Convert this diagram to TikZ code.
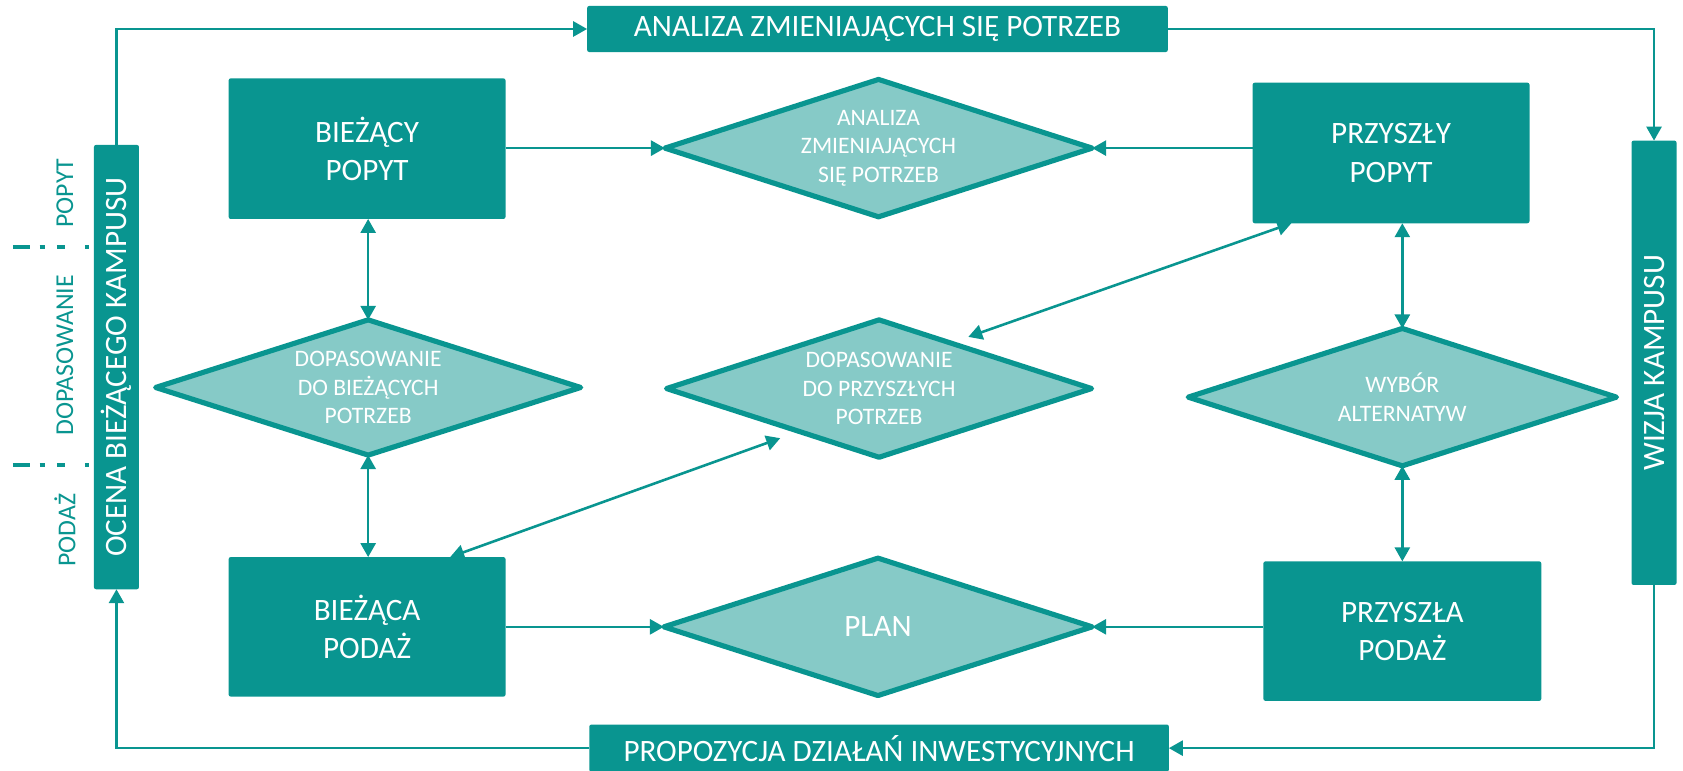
\documentclass[tikz,border=0pt]{standalone}
\usepackage{fontspec}
\setmainfont{Carlito}
\usetikzlibrary{shapes.geometric,arrows.meta,calc}
\definecolor{tealA}{HTML}{099590}
\definecolor{tealB}{HTML}{86CAC7}
\begin{document}
\begin{tikzpicture}[x=0.5pt,y=-0.5pt,
 bigf/.style={font=\fontsize{14.5}{17.8}\selectfont},
 box/.style={fill=tealA, rounded corners=1pt, inner sep=0pt, outer sep=0pt},
 boxtext/.style={text=white, align=center, bigf},
 dia/.style={diamond, draw=tealA, fill=tealB, line width=2.4pt, line join=round, inner sep=0pt, outer sep=0pt},
 diatext/.style={text=white, align=center, font=\fontsize{11}{13.4}\selectfont},
 sidetext/.style={text=tealA, rotate=90, font=\fontsize{12}{14}\selectfont},
 conn/.style={draw=tealA, line width=1.2pt, -{Triangle[length=6.5pt,width=7pt]}},
 biconn/.style={draw=tealA, line width=1.2pt, {Triangle[length=6.5pt,width=7pt]}-{Triangle[length=6.5pt,width=7pt]}},
 sepline/.style={draw=tealA, line width=1.9pt, dash pattern=on 8pt off 4.5pt on 2.5pt off 5.5pt on 4pt off 9pt on 2pt}
]
\useasboundingbox (0,0) rectangle (1568,718);

% outer bars
\node[box, boxtext, minimum width=270.5pt, minimum height=21.5pt] (atop) at (817.5,27) {ANALIZA ZMIENIAJĄCYCH SIĘ POTRZEB};
\node[box, boxtext, minimum width=270pt, minimum height=22pt] (prop) at (819,697) {PROPOZYCJA DZIAŁAŃ INWESTYCYJNYCH};
\node[box, minimum width=21pt, minimum height=207pt] (ocena) at (108.5,342) {};
\node[boxtext, rotate=90] (ocenat) at (ocena.center) {OCENA BIEŻĄCEGO KAMPUSU};
\node[box, minimum width=21pt, minimum height=207pt] (wizja) at (1541,338) {};
\node[boxtext, rotate=90] (wizjat) at (wizja.center) {WIZJA KAMPUSU};

% boxes
\node[box, boxtext, minimum width=129pt, minimum height=65.5pt] (bp) at (342,138.5) {BIEŻĄCY\\POPYT};
\node[box, boxtext, minimum width=129pt, minimum height=65pt] (bs) at (342,584) {BIEŻĄCA\\PODAŻ};
\node[box, boxtext, minimum width=129pt, minimum height=65.5pt] (pp) at (1296,142.5) {PRZYSZŁY\\POPYT};
\node[box, boxtext, minimum width=129.5pt, minimum height=65pt] (ps) at (1306.5,588) {PRZYSZŁA\\PODAŻ};

% diamonds
\node[dia, minimum width=199pt, minimum height=64pt] (ad) at (818.5,138) {};
\node[diatext] (adt) at (ad.center) {ANALIZA\\ZMIENIAJĄCYCH\\SIĘ POTRZEB};
\node[dia, minimum width=198pt, minimum height=63pt] (db) at (343,361) {};
\node[diatext] (dbt) at (db.center) {DOPASOWANIE\\DO BIEŻĄCYCH\\POTRZEB};
\node[dia, minimum width=198pt, minimum height=64pt] (dp) at (819,362) {};
\node[diatext] (dpt) at (dp.center) {DOPASOWANIE\\DO PRZYSZŁYCH\\POTRZEB};
\node[dia, minimum width=199.5pt, minimum height=64pt] (wa) at (1306.5,370) {};
\node[diatext] (wat) at (wa.center) {WYBÓR\\ALTERNATYW};
\node[dia, minimum width=199.5pt, minimum height=64pt] (pl) at (818,584) {};
\node[boxtext] (plt) at (pl.center) {PLAN};

% side labels
\node[sidetext] (lpopyt) at (60.5,180) {POPYT};
\node[sidetext] (ldop) at (60.5,331) {DOPASOWANIE};
\node[sidetext] (lpodaz) at (60.5,494) {PODAŻ};
\draw[sepline] (12,230) -- (83,230);
\draw[sepline] (12,433) -- (83,433);

% outer loop
\draw[conn] (ocena.north) |- (atop.west);
\draw[conn] (atop.east) -| (wizja.north);
\draw[conn] (wizja.south) |- (prop.east);
\draw[conn] (prop.west) -| (ocena.south);

% inner connectors
\draw[conn] (bp.east |- ad.west) -- (ad.west);
\draw[conn] (ad.east -| pp.west) -- (ad.east);
\draw[biconn] (db.north |- bp.south) -- (db.north);
\draw[biconn] (db.south) -- (db.south |- bs.north);
\draw[biconn] (wa.north |- pp.south) -- (wa.north);
\draw[biconn] (wa.south) -- (wa.south |- ps.north);
\draw[conn] (bs.east |- pl.west) -- (pl.west);
\draw[conn] (pl.east -| ps.west) -- (pl.east);
\draw[biconn] ($(pp.south west)!0.14!(pp.south east)$) -- ($(dp.north)!0.42!(dp.east)+(0,-11)$);
\draw[biconn] ($(bs.north west)!0.8!(bs.north east)$) -- ($(dp.west)!0.535!(dp.south)+(0,12)$);
\end{tikzpicture}
\end{document}
